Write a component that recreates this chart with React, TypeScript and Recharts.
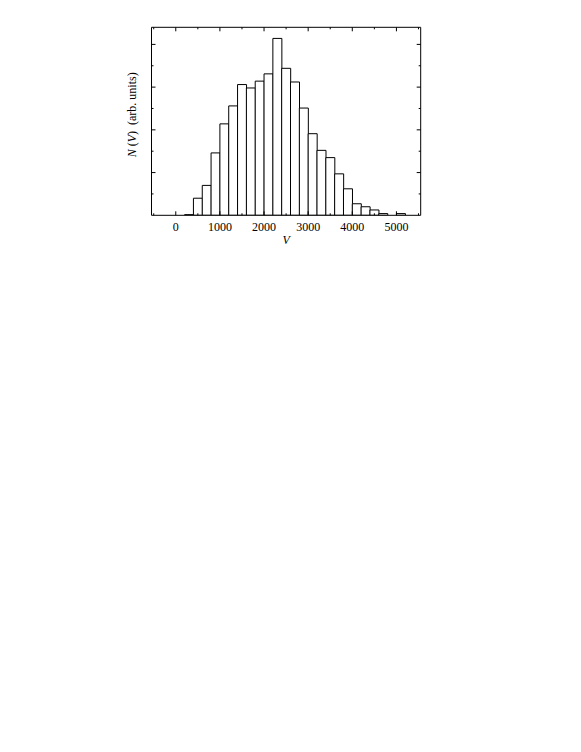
import React from "react";
import { BarChart, Bar, XAxis, YAxis } from "recharts";

// Histogram bin centres (bins of width 200)
const binCenters = [300, 500, 700, 900, 1100, 1300, 1500, 1700, 1900, 2100, 2300, 2500, 2700, 2900, 3100, 3300, 3500, 3700, 3900, 4100, 4300, 4500, 4700, 4900, 5100];
const counts = [1.5, 40, 70, 146, 214, 256, 306, 298, 314, 331, 414, 344, 312, 251, 191, 152, 135, 97, 62, 27, 20, 12.5, 4, 0, 4];

const xTicks = [-500, 0, 500, 1000, 1500, 2000, 2500, 3000, 3500, 4000, 4500, 5000, 5500];
const xLabelTicks = [0, 1000, 2000, 3000, 4000, 5000];
const yTicks = [0, 50, 100, 150, 200, 250, 300, 350, 400];
const yMajorTicks = [100, 200, 300, 400];

const xDomain = [-550, 5550];
const yDomain = [0, 440];

const data = binCenters.map((v, i) => ({ v, n: counts[i] }));

const FONT = "'Liberation Serif', 'Times New Roman', serif";
const MAJOR = 4;
const MINOR = 2;

const BottomTick = (props: any) => {
  const { x, y, payload } = props;
  const major = xLabelTicks.includes(payload.value);
  const len = major ? MAJOR : MINOR;
  return (
    <g>
      <line x1={x} y1={y} x2={x} y2={y - len} stroke="#000" strokeWidth={1} />
      {major && (
        <text x={x} y={y + 16} textAnchor="middle" fontFamily={FONT} fontSize={12} fill="#000">
          {payload.value}
        </text>
      )}
    </g>
  );
};

const TopTick = (props: any) => {
  const { x, y, payload } = props;
  const major = xLabelTicks.includes(payload.value);
  const len = major ? MAJOR : MINOR;
  return <line x1={x} y1={y} x2={x} y2={y + len} stroke="#000" strokeWidth={1} />;
};

const LeftTick = (props: any) => {
  const { x, y, payload } = props;
  const major = yMajorTicks.includes(payload.value);
  const len = major ? MAJOR : MINOR;
  if (payload.value === 0) return <g />;
  return <line x1={x} y1={y} x2={x + len} y2={y} stroke="#000" strokeWidth={1} />;
};

const RightTick = (props: any) => {
  const { x, y, payload } = props;
  const major = yMajorTicks.includes(payload.value);
  const len = major ? MAJOR : MINOR;
  if (payload.value === 0) return <g />;
  return <line x1={x} y1={y} x2={x - len} y2={y} stroke="#000" strokeWidth={1} />;
};

const YLabel = (props: any) => {
  const { viewBox } = props;
  const cx = viewBox.x + viewBox.width - 19.5;
  const cy = viewBox.y + viewBox.height / 2 - 6.5;
  return (
    <text
      x={cx}
      y={cy}
      transform={`rotate(-90, ${cx}, ${cy})`}
      textAnchor="middle"
      dominantBaseline="central"
      fontFamily={FONT}
      fontSize={12}
      fill="#000"
      style={{ whiteSpace: "pre" }}
    >
      <tspan fontStyle="italic">N</tspan>
      <tspan> (</tspan>
      <tspan fontStyle="italic">V</tspan>
      <tspan>)  (arb. units)</tspan>
    </text>
  );
};

const XLabel = (props: any) => {
  const { viewBox } = props;
  const cx = viewBox.x + viewBox.width / 2;
  const cy = viewBox.y + 25;
  return (
    <text x={cx} y={cy} textAnchor="middle" dominantBaseline="central" fontFamily={FONT} fontSize={12} fontStyle="italic" fill="#000">
      V
    </text>
  );
};

export default function App() {
  return (
    <div style={{ width: 440, height: 260 }}>
      <BarChart
        width={440}
        height={260}
        data={data}
        barCategoryGap={0}
        barGap={0}
        margin={{ top: 18.3, right: 26.3, bottom: 12.7, left: 103.5 }}
      >
        <XAxis
          xAxisId="bottom"
          dataKey="v"
          type="number"
          domain={xDomain}
          ticks={xTicks}
          interval={0}
          allowDataOverflow
          orientation="bottom"
          height={40}
          tickSize={0}
          tickMargin={0}
          tickLine={false}
          tick={<BottomTick />}
          axisLine={{ stroke: "#000", strokeWidth: 1 }}
          label={<XLabel />}
        />
        <XAxis
          xAxisId="top"
          dataKey="v"
          type="number"
          domain={xDomain}
          ticks={xTicks}
          interval={0}
          allowDataOverflow
          orientation="top"
          height={1}
          tickSize={0}
          tickMargin={0}
          tickLine={false}
          tick={<TopTick />}
          axisLine={{ stroke: "#000", strokeWidth: 1 }}
        />
        <YAxis
          yAxisId="left"
          type="number"
          domain={yDomain}
          ticks={yTicks}
          interval={0}
          allowDataOverflow
          orientation="left"
          width={40}
          tickSize={0}
          tickMargin={0}
          tickLine={false}
          tick={<LeftTick />}
          axisLine={{ stroke: "#000", strokeWidth: 1 }}
          label={<YLabel />}
        />
        <YAxis
          yAxisId="right"
          type="number"
          domain={yDomain}
          ticks={yTicks}
          interval={0}
          allowDataOverflow
          orientation="right"
          width={1}
          tickSize={0}
          tickMargin={0}
          tickLine={false}
          tick={<RightTick />}
          axisLine={{ stroke: "#000", strokeWidth: 1 }}
        />
        <Bar
          dataKey="n"
          xAxisId="bottom"
          yAxisId="left"
          fill="#fff"
          stroke="#000"
          strokeWidth={1}
          isAnimationActive={false}
        />
      </BarChart>
    </div>
  );
}
